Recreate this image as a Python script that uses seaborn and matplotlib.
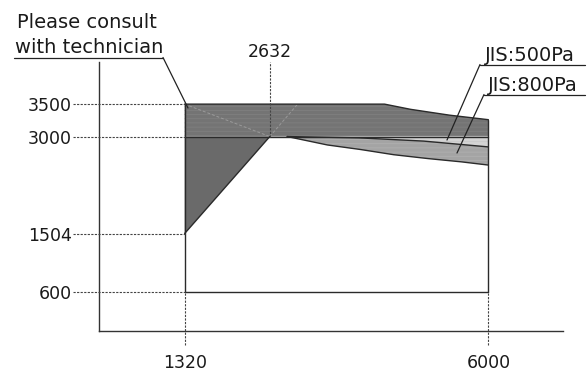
import numpy as np
import matplotlib
matplotlib.use('Agg')
import matplotlib.pyplot as plt
import seaborn as sns
from matplotlib.lines import Line2D

# ---------------- data ----------------
x_min, x_max = 1320, 6000          # airflow range
y_min = 600                         # lowest pressure
y_knee = 1504                       # start of the consult triangle
y_mid = 3000
y_top = 3500
x_knee = 2632

env_x = [1320, 4400, 4800, 5400, 6000]       # upper envelope
env_y = [3500, 3500, 3420, 3330, 3260]
jis500_x = [2900, 4000, 5000, 6000]
jis500_y = [3000, 2980, 2930, 2840]
jis800_x = [2900, 3520, 4030, 4540, 5070, 5580, 6000]
jis800_y = [3000, 2870, 2800, 2720, 2660, 2610, 2560]

y_ticks = [600, 1504, 3000, 3500]
x_ticks = [1320, 6000]

# ---------------- style ----------------
sns.set_theme(style='white')
plt.rcParams['font.family'] = ['DejaVu Sans']
plt.rcParams['hatch.linewidth'] = 0.5

fig = plt.figure(figsize=(5.88, 3.73), dpi=100)
ax = fig.add_axes([99 / 588, 42 / 373, 464 / 588, 269 / 373])
ax.set_xlim(0, 7150)
ax.set_ylim(0, 4150)

for s in ['top', 'right']:
    ax.spines[s].set_visible(False)
for s in ['left', 'bottom']:
    ax.spines[s].set_color('#333333')
    ax.spines[s].set_linewidth(1.0)

# ---------------- fills ----------------
# consult band (3000 -> envelope)
band_x = [x_min] + env_x + [x_max]
band_y = [y_mid] + env_y + [y_mid]
ax.fill(band_x, band_y, facecolor='#747474', edgecolor='#828282', lw=0, hatch='----', zorder=2)
# consult triangle
ax.fill([x_min, x_knee, x_min], [y_knee, y_mid, y_mid], facecolor='#6a6a6a', lw=0, zorder=2)
# JIS 500Pa (light band)
ax.fill(jis500_x + [x_max, jis500_x[0]], jis500_y + [y_mid, y_mid],
        facecolor='#d4d4d4', edgecolor='#c8c8c8', lw=0, hatch='---', zorder=2)
# JIS 800Pa (medium band)
ax.fill(jis500_x + jis800_x[::-1], jis500_y + jis800_y[::-1],
        facecolor='#a4a4a4', edgecolor='#b2b2b2', lw=0, hatch='----', zorder=2)

# ---------------- outlines ----------------
lc = '#2a2a2a'
lw = 1.0
sns.lineplot(x=env_x, y=env_y, color=lc, lw=lw, ax=ax, zorder=4)
sns.lineplot(x=jis500_x, y=jis500_y, color=lc, lw=lw, ax=ax, zorder=4)
sns.lineplot(x=jis800_x, y=jis800_y, color=lc, lw=lw, ax=ax, zorder=4)
ax.plot([x_min, x_max], [y_mid, y_mid], color=lc, lw=lw, zorder=4)
ax.plot([x_min, x_max], [y_min, y_min], color=lc, lw=lw, zorder=4)
ax.plot([x_min, x_min], [y_min, y_top], color=lc, lw=lw, zorder=4)
ax.plot([x_max, x_max], [y_min, env_y[-1]], color=lc, lw=lw, zorder=4)
ax.plot([x_min, x_knee], [y_knee, y_mid], color=lc, lw=lw, zorder=4)

# faint construction lines inside the band
ax.plot([x_min, x_knee], [y_top, y_mid], color='#9a9a9a', lw=0.7, ls=(0, (3, 2)), zorder=3)
ax.plot([x_knee, 3060], [y_mid, y_top], color='#9a9a9a', lw=0.7, ls=(0, (3, 2)), zorder=3)

# ---------------- guides ----------------
gs = dict(color='#444444', lw=0.8, ls=(0, (2, 1.2)), clip_on=False, zorder=5)
for yv in y_ticks:
    ax.plot([-400, x_min], [yv, yv], **gs)
for xv in x_ticks:
    ax.plot([xv, xv], [-220, y_min], **gs)
ax.plot([x_knee, x_knee], [y_mid, 4150], **gs)

# ---------------- ticks ----------------
ax.set_yticks(y_ticks)
ax.set_yticklabels([str(v) for v in y_ticks])
ax.set_xticks(x_ticks)
ax.set_xticklabels([str(v) for v in x_ticks])
ax.tick_params(axis='y', length=0, pad=19.5, labelsize=12.5, labelcolor='#1a1a1a')
ax.tick_params(axis='x', length=0, pad=16.5, labelsize=12.5, labelcolor='#1a1a1a')
ax.annotate(str(x_knee), xy=(x_knee, 1), xycoords=('data', 'axes fraction'),
            xytext=(0, 3.8), textcoords='offset points', ha='center', va='baseline',
            fontsize=12.5, color='#1a1a1a')

# ---------------- annotations ----------------
W, H = 588, 373

def fig_line(p0, p1):
    fig.add_artist(Line2D([p0[0] / W, p1[0] / W], [1 - p0[1] / H, 1 - p1[1] / H],
                          color='#222222', lw=0.9, transform=fig.transFigure))

fig.text(17 / W, 1 - 28 / H, 'Please consult', fontsize=14, color='#1a1a1a', va='baseline')
fig.text(15 / W, 1 - 53 / H, 'with technician', fontsize=14, color='#1a1a1a', va='baseline')
fig_line((14, 57.5), (163, 57.5))
fig_line((163, 57.5), (188, 108))

fig.text(485 / W, 1 - 61 / H, 'JIS:500Pa', fontsize=14, color='#1a1a1a', va='baseline')
fig_line((480, 64.5), (585, 64.5))
fig_line((480, 64.5), (447, 140))

fig.text(488 / W, 1 - 91 / H, 'JIS:800Pa', fontsize=14, color='#1a1a1a', va='baseline')
fig_line((484, 94.5), (585, 94.5))
fig_line((484, 94.5), (457, 153))

fig.savefig('out.png', dpi=100)
